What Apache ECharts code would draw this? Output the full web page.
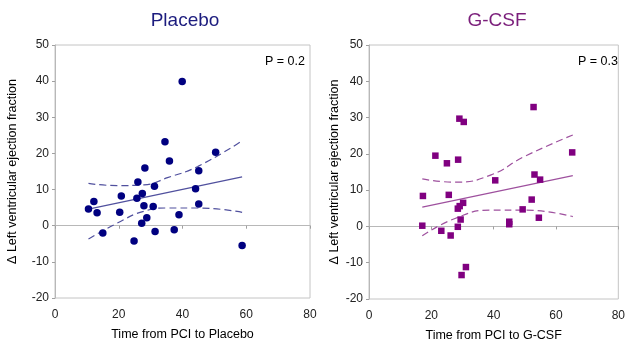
<!DOCTYPE html>
<html><head><meta charset="utf-8">
<script src="https://cdn.jsdelivr.net/npm/echarts@6/dist/echarts.min.js"></script>
<style>html,body{margin:0;padding:0;background:#fff}#c{width:628px;height:348px}</style>
</head><body><div id="c"></div>
<script>
// Placebo panel
const placeboX = [10.5,12.2,13.2,15.0,20.8,20.3,24.8,26.0,25.7,27.4,28.2,27.9,27.2,28.8,30.8,31.2,31.4,34.5,35.9,37.4,38.9,39.9,44.1,45.1,45.1,50.4,58.7];
const placeboY = [4.6,6.7,3.6,-2.0,8.2,3.7,-4.2,12.1,7.6,8.9,16.0,5.5,0.7,2.2,5.3,10.9,-1.6,23.2,17.9,-1.1,3.0,39.9,10.2,15.2,6.0,20.3,-5.5];
const placeboFitX = [10.5,58.7];
const placeboFitY = [4.6,13.5];
const placeboUpX = [10.5,19.5,27.9,35.3,44.8,58.7];
const placeboUpY = [11.7,11.1,11.3,13.3,16.4,23.5];
const placeboLoX = [10.5,19.5,27.9,35.3,44.8,58.7];
const placeboLoY = [-3.7,0.7,4.0,4.9,4.9,3.7];
// G-CSF panel
const gcsfX = [17.3,17.1,21.3,23.2,25.0,25.6,26.2,28.6,29.0,30.4,28.5,29.1,30.2,29.4,28.5,29.7,31.1,40.5,45.0,45.0,49.3,52.2,52.8,53.1,54.9,54.5,65.2];
const gcsfY = [8.4,0.2,19.5,-1.2,17.4,8.7,-2.5,18.4,29.7,28.8,4.9,5.6,6.5,1.9,-0.1,-13.4,-11.2,12.7,1.3,0.6,4.7,7.4,32.9,14.3,12.9,2.4,20.4];
const gcsfFitX = [17.1,65.4];
const gcsfFitY = [5.3,14.0];
const gcsfUpX = [17.1,27.6,39.2,49.7,65.4];
const gcsfUpY = [13.1,12.2,14.2,19.2,25.2];
const gcsfLoX = [17.1,27.6,39.2,49.7,65.4];
const gcsfLoY = [-2.6,2.2,4.5,4.5,2.7];
// axes
const xTicks = [0,20,40,60,80];
const yTicks = [-20,-10,0,10,20,30,40,50];
const titles = ['Placebo','G-CSF'];
const xNames = ['Time from PCI to Placebo','Time from PCI to G-CSF'];
const yName = '\u0394 Left ventricular ejection fraction';
const pTexts = ['P = 0.2','P = 0.3'];

const zip = (a,b) => a.map((v,i)=>[v,b[i]]);
const font = 'Liberation Sans, Arial, sans-serif';
const chart = echarts.init(document.getElementById('c'));
const mkX = (i) => ({gridIndex:i,type:'value',min:xTicks[0],max:xTicks[xTicks.length-1],interval:20,
  name:xNames[i],nameLocation:'middle',nameGap:30,nameTextStyle:{color:'#000',fontSize:12.5,fontFamily:font},
  axisLine:{lineStyle:{color:'#b8b8b8'}},axisTick:{show:true,length:3,inside:false,lineStyle:{color:'#a0a0a0'}},
  axisLabel:{color:'#222',fontSize:12,fontFamily:font,margin:11},splitLine:{show:false}});
const mkY = (i,gap) => ({gridIndex:i,type:'value',min:yTicks[0],max:yTicks[yTicks.length-1],interval:10,
  name:yName,nameLocation:'middle',nameGap:gap,nameRotate:90,nameTextStyle:{color:'#000',fontSize:12.5,fontFamily:font},
  axisLine:{lineStyle:{color:'#b8b8b8'}},axisTick:{show:true,length:3,lineStyle:{color:'#a0a0a0'}},
  axisLabel:{color:'#222',fontSize:12,fontFamily:font,margin:6},splitLine:{show:false}});
const c1='#000080', l1='#50509e', c2='#800080', l2='#9e509e';
const lineS = (xi,data,color,dashed,smooth) => ({type:'line',xAxisIndex:xi,yAxisIndex:xi,data,symbol:'none',smooth:smooth?0.5:false,
  lineStyle:{color,width:1.2,type:dashed?[7,4]:'solid'},silent:true,z:1});
chart.setOption({
  animation:false,
  title:[
    {text:titles[0],left:180,top:6,textAlign:'center',textStyle:{color:'#1c1c7e',fontSize:19,fontWeight:'normal',fontFamily:font}},
    {text:titles[1],left:492,top:6,textAlign:'center',textStyle:{color:'#7b1f7b',fontSize:19,fontWeight:'normal',fontFamily:font}},
    {text:pTexts[0],left:300,top:50,textAlign:'right',textStyle:{color:'#000',fontSize:12.5,fontWeight:'normal',fontFamily:font}},
    {text:pTexts[1],left:613,top:50,textAlign:'right',textStyle:{color:'#000',fontSize:12.5,fontWeight:'normal',fontFamily:font}}
  ],
  grid:[
    {left:55,top:45,width:255,height:253,show:true,borderColor:'#c4c4c4',borderWidth:1},
    {left:369,top:45,width:254,height:254,show:true,borderColor:'#c4c4c4',borderWidth:1}
  ],
  xAxis:[mkX(0),mkX(1)],
  yAxis:[mkY(0,36),mkY(1,28)],
  series:[
    {type:'scatter',xAxisIndex:0,yAxisIndex:0,data:zip(placeboX,placeboY),symbol:'circle',symbolSize:7.5,itemStyle:{color:c1,opacity:1},z:3},
    lineS(0,zip(placeboFitX,placeboFitY),l1,false,false),
    lineS(0,zip(placeboUpX,placeboUpY),l1,true,true),
    lineS(0,zip(placeboLoX,placeboLoY),l1,true,true),
    {type:'scatter',xAxisIndex:1,yAxisIndex:1,data:zip(gcsfX,gcsfY),symbol:'rect',symbolSize:6.5,itemStyle:{color:c2,opacity:1},z:3},
    lineS(1,zip(gcsfFitX,gcsfFitY),l2,false,false),
    lineS(1,zip(gcsfUpX,gcsfUpY),l2,true,true),
    lineS(1,zip(gcsfLoX,gcsfLoY),l2,true,true)
  ]
});
</script></body></html>
